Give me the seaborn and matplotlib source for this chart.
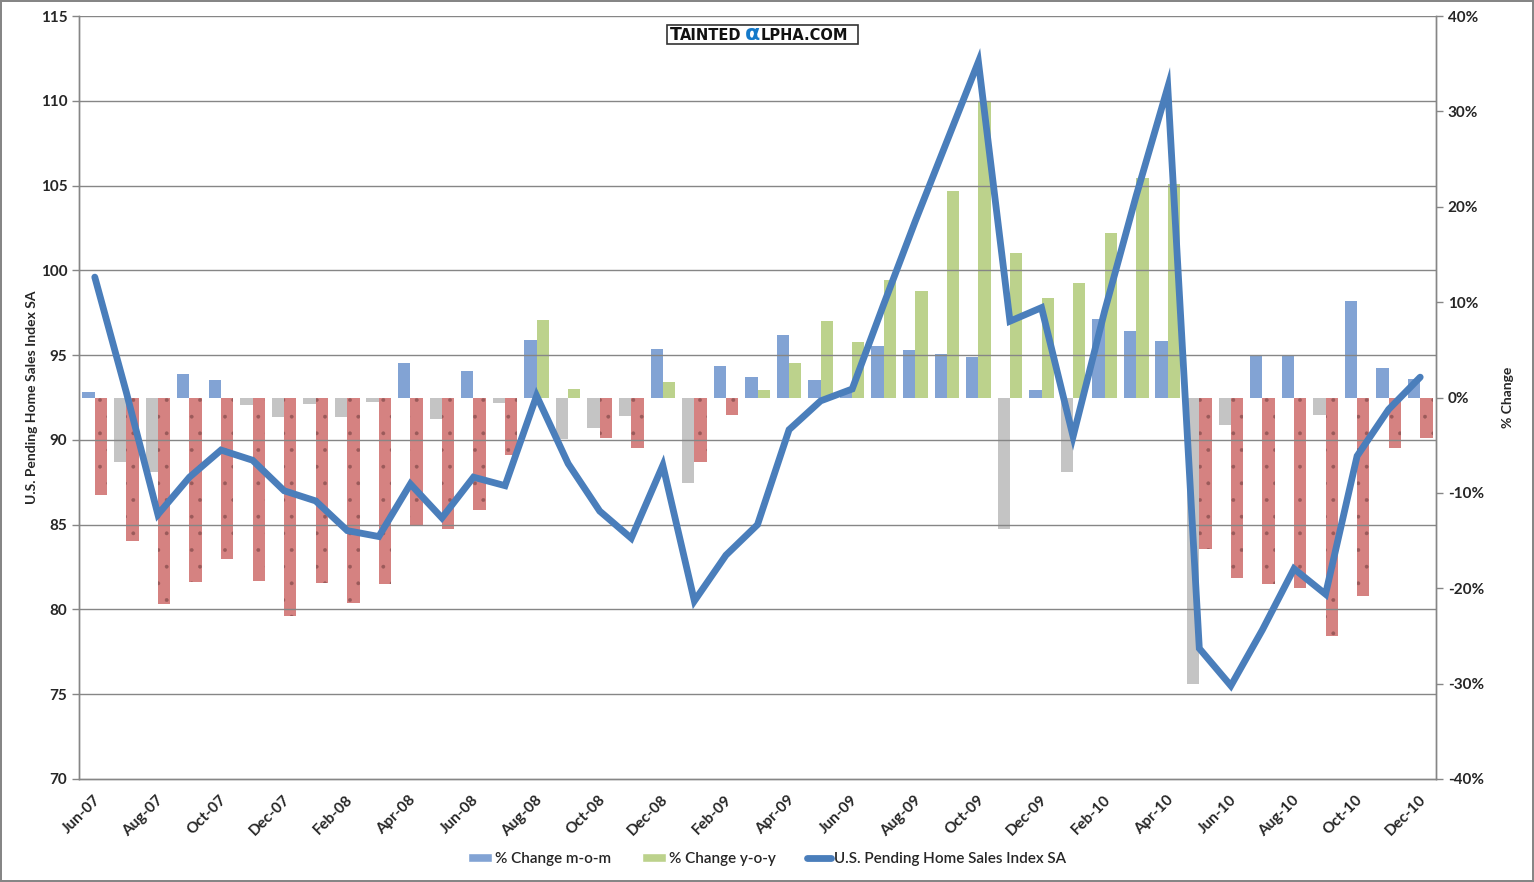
import numpy as np
import pandas as pd
import matplotlib
matplotlib.use("Agg")
import matplotlib.pyplot as plt
import seaborn as sns
from matplotlib.patches import Patch, Rectangle
from matplotlib.lines import Line2D

# Data
months = ["Jun-07", "Jul-07", "Aug-07", "Sep-07", "Oct-07", "Nov-07", "Dec-07",
          "Jan-08", "Feb-08", "Mar-08", "Apr-08", "May-08", "Jun-08", "Jul-08",
          "Aug-08", "Sep-08", "Oct-08", "Nov-08", "Dec-08", "Jan-09", "Feb-09",
          "Mar-09", "Apr-09", "May-09", "Jun-09", "Jul-09", "Aug-09", "Sep-09",
          "Oct-09", "Nov-09", "Dec-09", "Jan-10", "Feb-10", "Mar-10", "Apr-10",
          "May-10", "Jun-10", "Jul-10", "Aug-10", "Sep-10", "Oct-10", "Nov-10",
          "Dec-10"]

index_sa = [99.6, 92.8, 85.6, 87.8, 89.4, 88.8, 87.0, 86.4, 84.65, 84.3, 87.4,
            85.4, 87.8, 87.3, 92.6, 88.6, 85.8, 84.2, 88.5, 80.5, 83.2, 85.0,
            90.6, 92.3, 93.0, 98.0, 102.9, 107.6, 112.3, 97.0, 97.8, 90.2, 97.6,
            104.4, 110.8, 77.7, 75.5, 78.8, 82.4, 80.9, 89.05, 91.8, 93.7]

mom_pct = [0.6, -6.8, -7.8, 2.5, 1.85, -0.8, -2.0, -0.7, -2.0, -0.5, 3.6,
           -2.3, 2.8, -0.6, 6.0, -4.3, -3.2, -1.9, 5.1, -9.0, 3.3, 2.15,
           6.55, 1.85, 0.7, 5.4, 5.0, 4.6, 4.25, -13.75, 0.8, -7.8, 8.2,
           7.0, 5.9, -30.0, -2.85, 4.4, 4.4, -1.8, 10.1, 3.1, 1.9]

yoy_pct = [-10.2, -15.0, -21.6, -19.3, -16.9, -19.2, -22.9, -19.4, -21.5, -19.6,
           -13.4, -13.75, -11.8, -6.0, 8.1, 0.9, -4.2, -5.3, 1.6, -6.8, -1.8,
           0.8, 3.6, 8.0, 5.8, 12.3, 11.2, 21.6, 31.1, 15.1, 10.4, 12.0, 17.3,
           23.0, 22.4, -15.85, -18.9, -19.6, -20.0, -25.0, -20.8, -5.3, -4.2]

series_names = ["% Change m-o-m", "% Change y-o-y"]
line_name = "U.S. Pending Home Sales Index SA"

blue_bar = "#82a3d4"
green_bar = "#bcd28c"
grey_bar = "#c4c4c4"
red_bar = "#d58281"
line_col = "#4a7ebb"
grid_col = "#868686"

df = pd.DataFrame({
    "month": months * 2,
    "series": [series_names[0]] * len(months) + [series_names[1]] * len(months),
    "value": [v / 100 for v in mom_pct] + [v / 100 for v in yoy_pct],
})

sns.set_style("white")
plt.rcParams["font.family"] = ["Lato", "DejaVu Sans"]
plt.rcParams["hatch.linewidth"] = 0.3

fig = plt.figure(figsize=(15.34, 8.82), dpi=100)
fig.patch.set_facecolor("white")
fig.patch.set_edgecolor(grid_col)
fig.patch.set_linewidth(1.5)

ax = fig.add_axes([79 / 1534, 1 - 779 / 882, (1436 - 79) / 1534, (779 - 16) / 882])

# bars (percent, right axis)
sns.barplot(data=df, x="month", y="value", hue="series", order=months,
            hue_order=series_names, palette=[blue_bar, green_bar],
            width=0.78, saturation=1, legend=False, ax=ax, zorder=2)

for k, cont in enumerate(ax.containers):
    vals = mom_pct if k == 0 else yoy_pct
    for bar, v in zip(cont.patches, vals):
        bar.set_linewidth(0)
        if k == 0:
            bar.set_facecolor(blue_bar if v >= 0 else grey_bar)
        else:
            if v >= 0:
                bar.set_facecolor(green_bar)
            else:
                bar.set_facecolor(red_bar)
                bar.set_edgecolor("#9a5a5a")
                bar.set_hatch(".")

ax.set_ylim(-0.4, 0.4)
ax.set_xlim(-0.5, len(months) - 0.5)
ax.set_xlabel("")

# x ticks: marks every two months at the category edge, labels rotated
even = list(range(0, len(months), 2))
ax.set_xticks([i - 0.5 for i in even], minor=True)
ax.set_xticks([i - 0.05 for i in even])
ax.set_xticklabels([months[i] for i in even], rotation=45, ha="right",
                   rotation_mode="anchor", fontsize=11, fontweight="bold")
ax.tick_params(axis="x", which="major", length=0, pad=10)
ax.tick_params(axis="x", which="minor", length=5, color=grid_col, width=1)

# line (index, left axis)
ax2 = ax.twinx()
sns.lineplot(x=np.arange(len(months)), y=index_sa, ax=ax2, color=line_col,
             linewidth=4.9, solid_capstyle="round", solid_joinstyle="miter",
             zorder=5)

# percent axis on the right, index axis on the left
pct_ticks = np.arange(-0.4, 0.41, 0.1)
ax.yaxis.tick_right()
ax.yaxis.set_label_position("right")
ax.set_yticks(pct_ticks)
ax.set_yticklabels([f"{int(round(t * 100))}%" for t in pct_ticks])
ax.set_ylabel("% Change", fontsize=10, fontweight="bold", labelpad=13)
ax.tick_params(axis="y", length=5, color=grid_col, width=1, labelsize=11,
               left=False, labelleft=False, right=True, labelright=True)

ax2.yaxis.tick_left()
ax2.yaxis.set_label_position("left")
ax2.set_ylim(70, 115)
ax2.set_yticks(np.arange(70, 116, 5))
ax2.set_ylabel(line_name, fontsize=10, fontweight="bold", labelpad=2)
ax2.tick_params(axis="y", length=5, color=grid_col, width=1, labelsize=11,
                right=False, labelright=False, left=True, labelleft=True)
for lab in ax.get_yticklabels() + ax2.get_yticklabels():
    lab.set_fontweight("bold")

# grid lines follow the left axis
for v in np.arange(75, 116, 5):
    ax2.axhline(v, color=grid_col, linewidth=1, zorder=0)

for a in (ax, ax2):
    a.spines["top"].set_visible(False)
    for side in ("left", "right", "bottom"):
        a.spines[side].set_color(grid_col)
        a.spines[side].set_linewidth(1)

# watermark
ax2.add_patch(Rectangle((667 / 1534, 1 - 44 / 882), 191 / 1534, 19 / 882,
                        transform=fig.transFigure, facecolor="white",
                        edgecolor="#333333", linewidth=1.2, zorder=8,
                        clip_on=False))
base_y = 1 - 40.5 / 882
mark_font = dict(family="DejaVu Sans", fontweight="bold", color="#111111",
                 va="baseline", ha="left", zorder=9, transform=fig.transFigure)
ax2.text(670 / 1534, base_y, "T", fontsize=12.5, **mark_font)
ax2.text(680 / 1534, base_y, "AINTED", fontsize=10.5, **mark_font)
ax2.text(745 / 1534, base_y, "α", fontsize=16, family="DejaVu Sans",
         fontweight="bold", color="#1479c9", va="baseline", ha="left",
         zorder=9, transform=fig.transFigure)
ax2.text(761 / 1534, base_y, "LPHA.COM", fontsize=10.5, **mark_font)

# legend
handles = [Patch(facecolor=blue_bar, label=series_names[0]),
           Patch(facecolor=green_bar, label=series_names[1]),
           Line2D([0], [0], color=line_col, linewidth=4.9, label=line_name)]
leg = fig.legend(handles=handles, loc="center", bbox_to_anchor=(0.5, 1 - 859 / 882),
                 ncol=3, frameon=False, fontsize=11, handlelength=1.6,
                 handleheight=0.6, handletextpad=0.2, columnspacing=2.0)
for txt in leg.get_texts():
    txt.set_fontweight("semibold")

fig.savefig("out.png", dpi=100, facecolor=fig.get_facecolor(),
            edgecolor=fig.get_edgecolor())
